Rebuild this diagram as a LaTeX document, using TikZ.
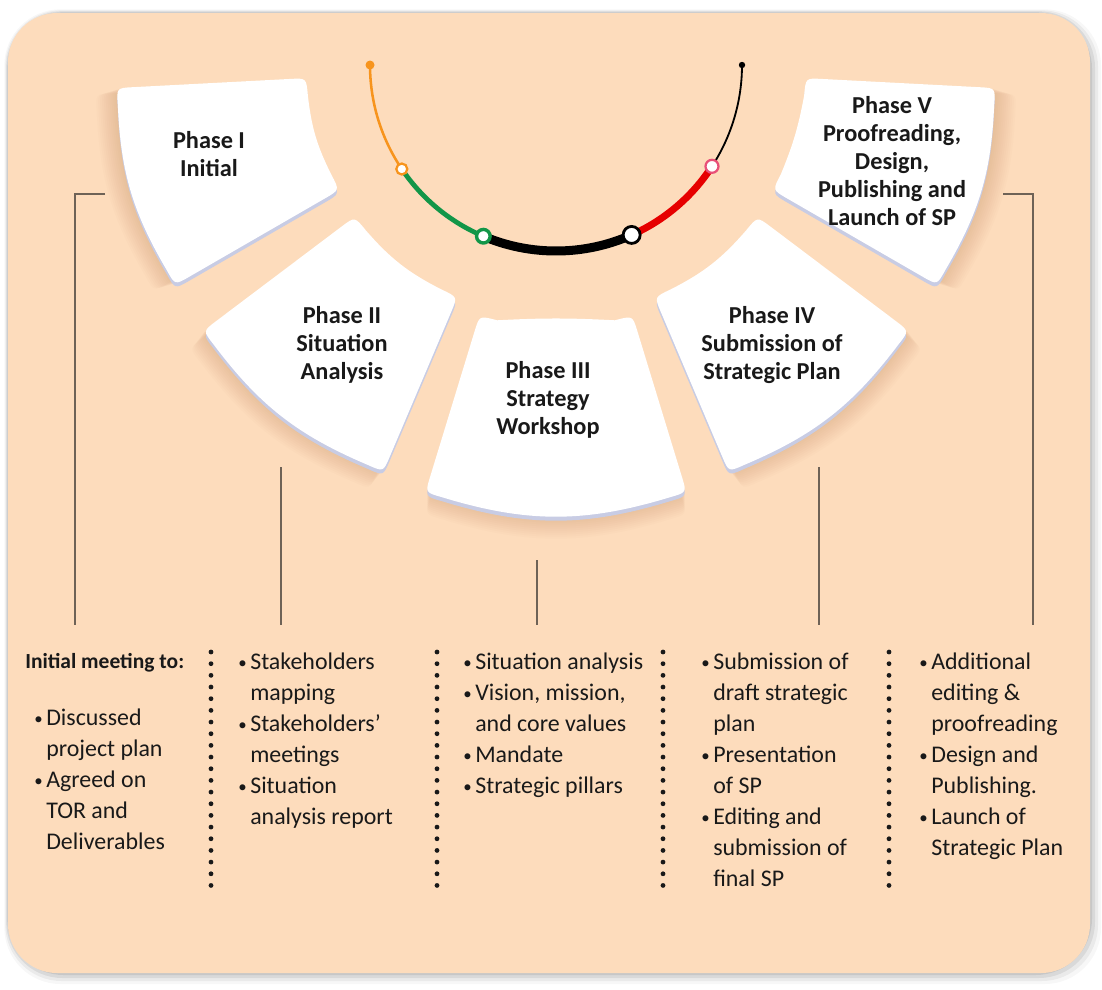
\documentclass[tikz,border=0pt]{standalone}
\usepackage{fontspec}
\setmainfont{Carlito}
\usetikzlibrary{calc}

\definecolor{peach}{RGB}{253,220,188}
\definecolor{shadowbrown}{RGB}{200,140,95}
\definecolor{rimblue}{RGB}{200,204,228}
\definecolor{lineclr}{RGB}{110,98,86}
\definecolor{orangeA}{RGB}{247,148,29}
\definecolor{greenA}{RGB}{18,150,72}
\definecolor{redA}{RGB}{230,0,0}
\definecolor{pinkA}{RGB}{232,80,120}
\definecolor{txt}{RGB}{25,25,25}

% outline of one phase card around the fan centre
% #1 #2 start/end angle, #3 #4 inner/outer radius, #5 #6 bend of inner/outer edge
\newcommand{\phasepath}[6]{({#1+4}:#3) to[bend left=#5] ({#2-4}:#3)
  .. controls (#2:#3) .. (#2:{#3+16}) -- (#2:{#4-16})
  .. controls (#2:#4) .. ({#2-2.2}:#4) to[bend right=#6] ({#1+2.2}:#4)
  .. controls (#1:#4) .. (#1:{#4-16}) -- (#1:{#3+16})
  .. controls (#1:#3) .. ({#1+4}:#3) -- cycle}
\newcommand{\bul}{\makebox[0.3cm][l]{\raisebox{1pt}{\fontsize{12}{12}\selectfont\textbullet}}}
\newcommand{\cnt}{\hspace*{0.3cm}}

\begin{document}
\begin{tikzpicture}[x=0.025cm, y=-0.025cm,
    phasetxt/.style={font=\fontsize{17.3}{20}\selectfont\bfseries, align=center, text=txt},
    listtxt/.style={font=\fontsize{17}{22}\selectfont, align=left, anchor=north west, inner sep=0pt, text=txt},
    bracket/.style={draw=lineclr, line width=1.1pt},
    dotsep/.style={draw=txt, line width=3.4pt, line cap=round, dash pattern=on 0pt off 8.3},
  ]
  \useasboundingbox (0,0) rectangle (1102,989);
  \fill[white] (0,0) rectangle (1102,989);

  % card with its shadow
  \foreach \d/\o in {11/0.03,8/0.05,5/0.07,2/0.08}
    \fill[black, opacity=\o, rounded corners=40] ({8-\d/3},{13-\d/3}) rectangle ({1090+\d},{973+\d});
  \fill[peach, rounded corners=35] (8,13) rectangle (1090,973);

  \begin{scope}[shift={(556,65)}]
    % phase cards: soft shadow, rim, face
    \foreach \a/\b/\ri/\ro/\ib/\ob in {150/177/250/440/10/14, 113/143/252/442/11/15, 73/107/262/447/-3/17, 37/67/252/442/11/15, 3/30/250/440/6/14}{
      \foreach \s in {2,4,...,22}
        \fill[shadowbrown, opacity=0.03, shift={({(\a+\b)/2}:\s)}] \phasepath{\a}{\b}{\ri}{\ro}{\ib}{\ob};
    }
    \foreach \a/\b/\ri/\ro/\ib/\ob in {150/177/250/440/10/14, 113/143/252/442/11/15, 73/107/262/447/-3/17, 37/67/252/442/11/15, 3/30/250/440/6/14}{
      \fill[rimblue, shift={(0,4)}] \phasepath{\a}{\b}{\ri}{\ro}{\ib}{\ob};
      \fill[white] \phasepath{\a}{\b}{\ri}{\ro}{\ib}{\ob};
    }

    % progress arc
    \coordinate (k0) at (180:186);
    \coordinate (k1) at (146:186);
    \coordinate (k2) at (113:186);
    \coordinate (k3) at (66:186);
    \coordinate (k4) at (33:186);
    \coordinate (k5) at (0:186);
    \draw[orangeA, line width=1.8pt] (k0) arc[start angle=180, end angle=146, radius=186];
    \draw[greenA, line width=3.4pt] (k1) arc[start angle=146, end angle=113, radius=186];
    \draw[black, line width=6.4pt] (k2) arc[start angle=113, end angle=66, radius=186];
    \draw[redA, line width=5pt] (k3) arc[start angle=66, end angle=33, radius=186];
    \draw[black, line width=1.3pt] (k4) arc[start angle=33, end angle=0, radius=186];
    \fill[orangeA] (k0) circle[radius=4.5];
    \fill[black] (k5) circle[radius=3.2];
    \draw[orangeA, fill=white, line width=1.6pt] (k1) circle[radius=5.5];
    \draw[greenA, fill=white, line width=2.4pt] (k2) circle[radius=6.8];
    \draw[black, fill=white, line width=2pt] (k3) circle[radius=8.5];
    \draw[pinkA, fill=white, line width=1.6pt] (k4) circle[radius=6.5];
  \end{scope}

  % phase titles
  \node[phasetxt] (p1) at (209,154) {Phase I\\Initial};
  \node[phasetxt] (p2) at (342,345) {Phase II\\Situation\\Analysis};
  \node[phasetxt] (p3) at (548,400) {Phase III\\Strategy\\Workshop};
  \node[phasetxt] (p4) at (772,345) {Phase IV\\Submission of\\Strategic Plan};
  \node[phasetxt] (p5) at (892,161) {Phase V\\Proofreading,\\Design,\\Publishing and\\Launch of SP};

  % activity lists
  \node[font=\fontsize{15.3}{18}\selectfont\bfseries, anchor=west, inner sep=0pt, text=txt] (h1) at (25,663) {Initial meeting to:};
  \node[listtxt] (l1) at (34,709) {\bul Discussed\\\cnt project plan\\\bul Agreed on\\\cnt TOR and\\\cnt Deliverables};
  \node[listtxt] (l2) at (238,653) {\bul Stakeholders\\\cnt mapping\\\bul Stakeholders’\\\cnt meetings\\\bul Situation\\\cnt analysis report};
  \node[listtxt] (l3) at (463,653) {\bul Situation analysis\\\bul Vision, mission,\\\cnt and core values\\\bul Mandate\\\bul Strategic pillars};
  \node[listtxt] (l4) at (701,653) {\bul Submission of\\\cnt draft strategic\\\cnt plan\\\bul Presentation\\\cnt of SP\\\bul Editing and\\\cnt submission of\\\cnt final SP};
  \node[listtxt] (l5) at (919,653) {\bul Additional\\\cnt editing \&\\\cnt proofreading\\\bul Design and\\\cnt Publishing.\\\bul Launch of\\\cnt Strategic Plan};

  % dotted separators
  \foreach \x in {211,437,663,889}
    \draw[dotsep] (\x,652) -- (\x,890);

  % brackets from the cards down to the lists
  \coordinate (b1) at (105,194);
  \coordinate (c1) at (75,194);
  \coordinate (e1) at (75,625);
  \coordinate (s2) at (281,467);
  \coordinate (e2) at (281,625);
  \coordinate (s3) at (537,560);
  \coordinate (e3) at (537,625);
  \coordinate (s4) at (819,467);
  \coordinate (e4) at (819,625);
  \coordinate (b5) at (1003,194);
  \coordinate (c5) at (1033,194);
  \coordinate (e5) at (1033,625);
  \draw[bracket] (b1) -- (c1) -- (e1);
  \draw[bracket] (s2) -- (e2);
  \draw[bracket] (s3) -- (e3);
  \draw[bracket] (s4) -- (e4);
  \draw[bracket] (b5) -- (c5) -- (e5);
\end{tikzpicture}
\end{document}
